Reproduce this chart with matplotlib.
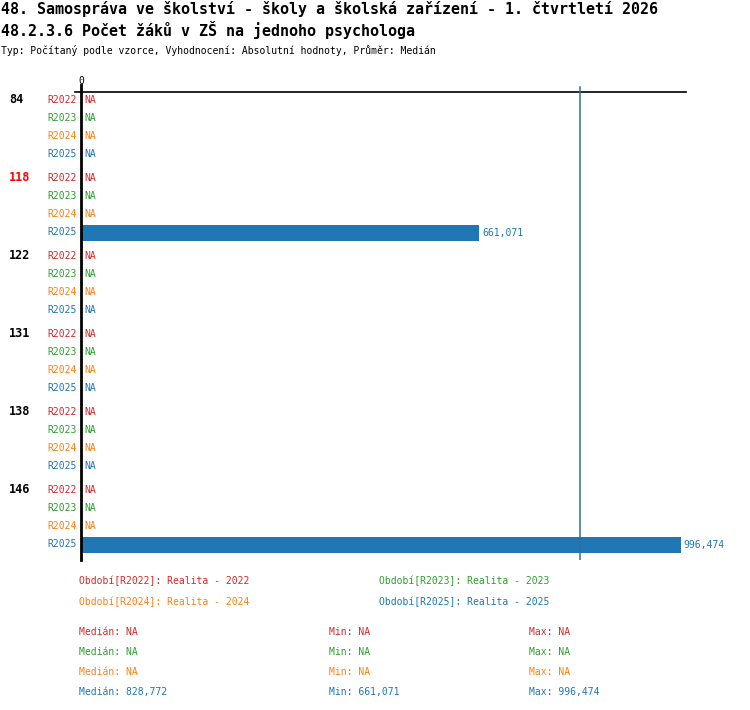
import numpy as np
from decimal import Decimal, ROUND_HALF_EVEN
import matplotlib
matplotlib.use("Agg")
import matplotlib.pyplot as plt

# ---- data ----
title1 = "48. Samospráva ve školství - školy a školská zařízení - 1. čtvrtletí 2026"
title2 = "48.2.3.6 Počet žáků v ZŠ na jednoho psychologa"
subtitle = "Typ: Počítaný podle vzorce, Vyhodnocení: Absolutní hodnoty, Průměr: Medián"
groups = ["84", "118", "122", "131", "138", "146"]
highlight = "118"
periods = ["R2022", "R2023", "R2024", "R2025"]
period_names = ["Realita - 2022", "Realita - 2023", "Realita - 2024", "Realita - 2025"]
colors = ["#d62728", "#2ca02c", "#ff7f0e", "#1f77b4"]
nan = np.nan
values = {
    "R2022": [nan, nan, nan, nan, nan, nan],
    "R2023": [nan, nan, nan, nan, nan, nan],
    "R2024": [nan, nan, nan, nan, nan, nan],
    "R2025": [nan, 661.071, nan, nan, nan, 996.474],
}

W, H = 750, 710
MONO = "DejaVu Sans Mono"
fig = plt.figure(figsize=(W / 100, H / 100), dpi=100)

def fmt(v):
    if v is None:
        return "NA"
    if not isinstance(v, Decimal):
        if np.isnan(v):
            return "NA"
        v = Decimal(str(v))
    return str(v.quantize(Decimal("0.001"), rounding=ROUND_HALF_EVEN)).replace(".", ",")

# overlay axes in pixel coordinates for free text
ov = fig.add_axes([0, 0, 1, 1])
ov.set_xlim(0, W)
ov.set_ylim(H, 0)
ov.axis("off")

# plot axes
ROW = 18.0
GROUP_GAP = 6.0
top_px, bot_px, left_px, right_px = 85, 560, 81, 686
y0_px = 100  # first row center
def px2row(p):
    return (p - y0_px) / ROW

ax = fig.add_axes([left_px / W, 1 - bot_px / H, (right_px - left_px) / W, (bot_px - top_px) / H])
ax.set_ylim(px2row(bot_px), px2row(top_px))
ax.set_xlim(0, 1005)
for s in ["top", "right", "bottom"]:
    ax.spines[s].set_visible(False)
ax.spines["left"].set_linewidth(2)
ax.spines["left"].set_color("black")
ax.set_xticks([])
ax.set_yticks([])
ax.patch.set_alpha(0)

gstep = len(periods) + GROUP_GAP / ROW
ypos = {}
for gi, g in enumerate(groups):
    for pi, p in enumerate(periods):
        ypos[(gi, pi)] = gi * gstep + pi

# top horizontal line
ax.plot([-10, 1005], [px2row(92.5)] * 2, color="black", lw=1.2, clip_on=False)
ax.text(0, px2row(81), "0", ha="center", va="center", fontsize=7, family=MONO)

# statistics per period
allstats = []
for pi, p in enumerate(periods):
    d = [Decimal(str(v)) for v in values[p] if not np.isnan(v)]
    if not d:
        allstats.append((None, None, None))
    else:
        d.sort()
        n = len(d)
        med = d[n // 2] if n % 2 else (d[n // 2 - 1] + d[n // 2]) / 2
        allstats.append((med, min(d), max(d)))

for pi, (med, mn, mx) in enumerate(allstats):
    if med is not None:
        ax.plot([float(med)] * 2, [px2row(87), px2row(bot_px)], color="#2f6fa0", lw=1.1)

for gi, g in enumerate(groups):
    ax.text(-72 / 0.6023, ypos[(gi, 0)], g, ha="left", va="center", fontsize=8.5,
            fontweight="bold", family=MONO, color="#ff0000" if g == highlight else "black")
    for pi, p in enumerate(periods):
        y = ypos[(gi, pi)]
        v = values[p][gi]
        ax.text(-4 / 0.6023, y, p, ha="right", va="center", fontsize=7, family=MONO, color=colors[pi])
        if np.isnan(v):
            ax.text(3 / 0.6023, y, "NA", ha="left", va="center", fontsize=7, family=MONO, color=colors[pi])
        else:
            ax.barh(y + 0.05, v, height=16 / ROW, color=colors[pi])
            ax.text(v + 3 / 0.6023, y + 0.05, fmt(v), ha="left", va="center", fontsize=7, family=MONO, color=colors[pi])

# titles
ov.text(1, 9, title1, fontsize=10.8, fontweight="bold", family=MONO, va="center", ha="left")
ov.text(1, 30, title2, fontsize=10.8, fontweight="bold", family=MONO, va="center", ha="left")
ov.text(1, 50, subtitle, fontsize=7, family=MONO, va="center", ha="left")

# legend
leg_pos = [(79, 581), (379, 581), (79, 602), (379, 602)]
for pi, p in enumerate(periods):
    x, y = leg_pos[pi]
    ov.text(x, y, f"Období[{p}]: {period_names[pi]}", fontsize=7, family=MONO,
            color=colors[pi], va="center", ha="left")

# stats
for pi, (med, mn, mx) in enumerate(allstats):
    y = 632 + pi * 20
    ov.text(79, y, f"Medián: {fmt(med)}", fontsize=7, family=MONO, color=colors[pi], va="center")
    ov.text(329, y, f"Min: {fmt(mn)}", fontsize=7, family=MONO, color=colors[pi], va="center")
    ov.text(529, y, f"Max: {fmt(mx)}", fontsize=7, family=MONO, color=colors[pi], va="center")

fig.savefig("out.png", dpi=100)
